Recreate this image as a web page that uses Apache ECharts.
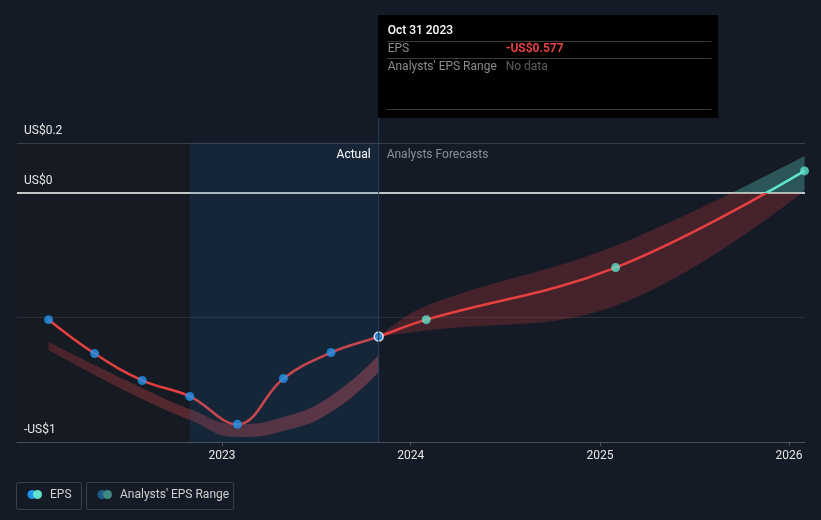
<!DOCTYPE html>
<html><head><meta charset="utf-8">
<script src="https://cdn.jsdelivr.net/npm/echarts@6/dist/echarts.min.js"></script>
<style>html,body{margin:0;padding:0;background:#151b26;}#c{width:821px;height:520px;}</style>
</head><body><div id="c"></div>
<script>
// ---- data ----
const actualDates = ['2022-01-31','2022-04-30','2022-07-31','2022-10-31','2023-01-31','2023-04-30','2023-07-31','2023-10-31'];
const actualEps   = [-0.509, -0.645, -0.753, -0.817, -0.929, -0.745, -0.641, -0.577];
const pastRangeLow  = [-0.631, -0.731, -0.827, -0.911, -0.980, -0.956, -0.880, -0.719];
const pastRangeHigh = [-0.599, -0.691, -0.783, -0.868, -0.928, -0.900, -0.815, -0.651];
const forecastDates = ['2023-10-31','2024-01-31','2025-01-31','2026-01-31'];
const forecastEps   = [-0.577, -0.509, -0.300, 0.088];
const forecastLow   = [-0.577, -0.553, -0.453, 0.008];
const forecastHigh  = [-0.577, -0.453, -0.212, 0.148];
const xTickYears  = [2023, 2024, 2025, 2026];
const yTickValues = [0.2, 0, -1];
const yTickLabels = ['US$0.2', 'US$0', '-US$1'];
const xRange = ['2021-12-01', '2026-02-01'];
const highlightStart = '2022-10-31';
const splitDate = '2023-10-31';
const legendNames = ['EPS', "Analysts' EPS Range"];

// ---- styles ----
const RED = '#e5403f', TEAL = '#5fe3cc', BLUE = '#2394ee';
const FONT = 'Roboto';
const MONTHS = ['Jan','Feb','Mar','Apr','May','Jun','Jul','Aug','Sep','Oct','Nov','Dec'];
function ts(s){ const p = s.split('-'); return +new Date(+p[0], +p[1]-1, +p[2]); }
function fmtDate(s){ const p = s.split('-'); return MONTHS[+p[1]-1] + ' ' + (+p[2]) + ' ' + p[0]; }
function fmtUsd(v){ return (v < 0 ? '-US$' : 'US$') + Math.abs(v).toFixed(3); }

const xTicks = xTickYears.map(y => +new Date(y, 0, 1));
const lineData = actualDates.map((d,i)=>[ts(d), actualEps[i]])
  .concat(forecastDates.slice(1).map((d,i)=>[ts(d), forecastEps[i+1]]));

const chart = echarts.init(document.getElementById('c'), null, {renderer:'canvas'});

const baseOption = {
  backgroundColor: '#151b26',
  animation: false,
  textStyle: {fontFamily: FONT},
  grid: {left: 17, right: 16, top: 143, bottom: 78},
  xAxis: [{
    type: 'time', min: ts(xRange[0]), max: ts(xRange[1]),
    axisLine: {show: true, onZero: false, lineStyle: {color: '#4a4f5a', width: 1}},
    axisTick: {show: false}, axisLabel: {show: false}, splitLine: {show: false}
  }, {
    type: 'value', position: 'bottom', min: ts(xRange[0]), max: ts(xRange[1]),
    axisLine: {show: false, onZero: false},
    axisTick: {show: true, customValues: xTicks, length: 4, lineStyle: {color: '#4a4f5a'}},
    axisLabel: {customValues: xTicks, formatter: v => String(new Date(v).getFullYear()), color: '#e6e6e6', fontSize: 12, margin: 8, fontFamily: FONT},
    splitLine: {show: false}
  }],
  yAxis: {
    type: 'value', min: -1, max: 0.2, interval: 0.1,
    axisLine: {show: false}, axisTick: {show: false}, splitLine: {show: false},
    axisLabel: {
      customValues: yTickValues, inside: true, margin: 7, verticalAlign: 'bottom', padding: [0,0,6,0],
      color: '#e6e6e6', fontSize: 12, fontFamily: FONT,
      formatter: v => { for (let i=0;i<yTickValues.length;i++) if (Math.abs(v-yTickValues[i])<1e-6) return yTickLabels[i]; return ''; }
    }
  },
  series: []
};
chart.setOption(baseOption);

const zeroPx = chart.convertToPixel({yAxisIndex: 0}, 0);
const xs = chart.convertToPixel({xAxisIndex: 0}, ts(splitDate));
const H = 520;
function split(colTop, colBottom){
  const o = zeroPx / H;
  return new echarts.graphic.LinearGradient(0, 0, 0, H, [
    {offset: 0, color: colTop}, {offset: o, color: colTop},
    {offset: o, color: colBottom}, {offset: 1, color: colBottom}], true);
}

const series = [
  {
    type: 'line', data: [], z: 0, silent: true,
    markArea: {silent: true, z: 0, itemStyle: {color: 'rgba(28,28,30,0.3)'},
      data: [[{xAxis: ts(xRange[0])}, {xAxis: ts(highlightStart)}]]},
    markLine: {silent: true, z: 1, symbol: 'none', label: {show: false},
      data: [
        {yAxis: 0.2, lineStyle: {color: '#3a3f4a', width: 1, type: 'solid'}},
        {yAxis: -0.5, lineStyle: {color: '#2a2f39', width: 1, type: 'solid'}},
        {yAxis: 0, lineStyle: {color: '#ffffff', width: 1.5, type: 'solid'}}
      ]}
  },
  {type: 'line', stack: 'past', stackStrategy: 'all', smooth: 0.5, z: 2, silent: true, symbol: 'none',
   lineStyle: {width: 0, opacity: 0},
   data: actualDates.map((d,i)=>[ts(d), pastRangeLow[i]])},
  {type: 'line', stack: 'past', stackStrategy: 'all', smooth: 0.5, z: 2, silent: true, symbol: 'none',
   lineStyle: {width: 0, opacity: 0},
   areaStyle: {color: new echarts.graphic.LinearGradient(0,0,1,0,[{offset:0,color:'rgba(190,60,60,0.30)'},{offset:1,color:'rgba(225,75,85,0.42)'}]), opacity: 1},
   data: actualDates.map((d,i)=>[ts(d), pastRangeHigh[i]-pastRangeLow[i]])},
  {type: 'line', stack: 'fc', stackStrategy: 'all', smooth: 0.4, z: 2, silent: true, symbol: 'none',
   lineStyle: {width: 0, opacity: 0},
   data: forecastDates.map((d,i)=>[ts(d), forecastLow[i]])},
  {type: 'line', stack: 'fc', stackStrategy: 'all', smooth: 0.4, z: 2, silent: true, symbol: 'none',
   lineStyle: {width: 0, opacity: 0},
   areaStyle: {color: split('rgba(90,210,190,0.32)', 'rgba(230,60,60,0.23)'), opacity: 1},
   data: forecastDates.map((d,i)=>[ts(d), forecastHigh[i]-forecastLow[i]])},
  {name: 'EPS', type: 'line', smooth: 0.4, z: 3, silent: true, showSymbol: false, symbol: 'none',
   lineStyle: {width: 2.5, color: split(TEAL, RED)},
   data: lineData},
  {
    type: 'line', data: [], z: 4, silent: true,
    markArea: {silent: true, z: 4, itemStyle: {color: 'rgba(35,110,170,0.15)'},
      data: [[{xAxis: ts(highlightStart)}, {xAxis: ts(splitDate)}]]}
  },
  {type: 'scatter', z: 5, silent: true, symbolSize: 9,
   data: actualDates.map((d,i)=>({value: [ts(d), actualEps[i]],
     itemStyle: i === actualDates.length-1 ? {color: BLUE, borderColor: '#ffffff', borderWidth: 1.5} : {color: BLUE}}))},
  {type: 'scatter', z: 5, silent: true, symbolSize: 9, itemStyle: {color: TEAL},
   data: forecastDates.slice(1).map((d,i)=>[ts(d), forecastEps[i+1]])}
];

function txt(x, y, text, fill, opts){
  opts = opts || {};
  return {type: 'text', x: x, y: y, silent: true, z: 100,
    style: {text: text, fill: fill, fontSize: 12, fontFamily: FONT,
      align: opts.align || 'left', textAlign: opts.align || 'left',
      verticalAlign: 'middle', textVerticalAlign: 'middle', fontWeight: opts.weight || 'normal'}};
}
const lastIdx = actualDates.length - 1;
const graphic = [
  {type: 'line', silent: true, z: 90, shape: {x1: xs, y1: 117, x2: xs, y2: 442}, style: {stroke: '#25425c', lineWidth: 1}},
  txt(xs - 8, 155, 'Actual', '#ffffff', {align: 'right'}),
  txt(xs + 8, 155, 'Analysts Forecasts', '#8a8f98'),
  {type: 'rect', silent: true, z: 95, shape: {x: xs - 0.5, y: 15, width: 340, height: 103}, style: {fill: '#000000'}},
  txt(xs + 9, 31, fmtDate(actualDates[lastIdx]), '#ffffff', {weight: 500}),
  {type: 'line', silent: true, z: 100, shape: {x1: xs + 8, y1: 41.5, x2: xs + 333, y2: 41.5}, style: {stroke: '#3a3a3a', lineWidth: 1}},
  txt(xs + 9, 49, legendNames[0], '#8c8c8c'),
  txt(xs + 127, 49, fmtUsd(actualEps[lastIdx]), '#e5403f', {weight: 'bold'}),
  {type: 'line', silent: true, z: 100, shape: {x1: xs + 8, y1: 58.5, x2: xs + 333, y2: 58.5}, style: {stroke: '#3a3a3a', lineWidth: 1}},
  txt(xs + 9, 67, legendNames[1], '#8c8c8c'),
  txt(xs + 127, 67, 'No data', '#5e5e5e'),
  {type: 'line', silent: true, z: 100, shape: {x1: xs + 8, y1: 109.5, x2: xs + 333, y2: 109.5}, style: {stroke: '#3a3a3a', lineWidth: 1}},
  {type: 'rect', silent: true, z: 100, shape: {x: 16.5, y: 482.5, width: 65, height: 27, r: 2}, style: {fill: 'transparent', stroke: '#3a3f4a', lineWidth: 1}},
  {type: 'circle', silent: true, z: 101, shape: {cx: 32, cy: 494.5, r: 4.5}, style: {fill: BLUE}},
  {type: 'circle', silent: true, z: 102, shape: {cx: 37.5, cy: 494.5, r: 4.5}, style: {fill: TEAL}},
  txt(50, 495, legendNames[0], '#cfcfcf'),
  {type: 'rect', silent: true, z: 100, shape: {x: 86.5, y: 482.5, width: 147, height: 27, r: 2}, style: {fill: 'transparent', stroke: '#3a3f4a', lineWidth: 1}},
  {type: 'circle', silent: true, z: 101, shape: {cx: 102, cy: 494.5, r: 4.5}, style: {fill: '#1d5a8a'}},
  {type: 'circle', silent: true, z: 102, shape: {cx: 107.5, cy: 494.5, r: 4.5}, style: {fill: '#3f8a80'}},
  txt(120, 495, legendNames[1], '#cfcfcf')
];

chart.setOption({series: series, graphic: graphic});
</script></body></html>
